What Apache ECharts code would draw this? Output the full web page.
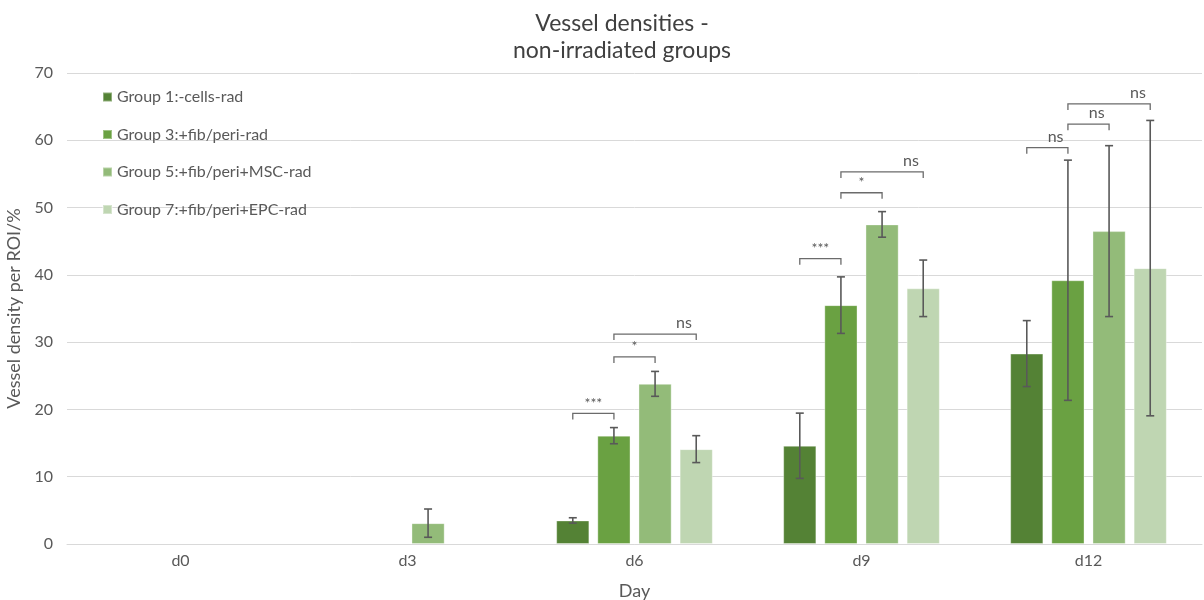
<!DOCTYPE html>
<html>
<head>
<meta charset="utf-8">
<title>Vessel densities</title>
<script src="https://cdn.jsdelivr.net/npm/echarts@6/dist/echarts.min.js"></script>
<style>
  html, body { margin: 0; padding: 0; background: #fff; }
  #chart { width: 1204px; height: 600px; }
</style>
</head>
<body>
<div id="chart"></div>
<script>
// days on the x axis
const days = ['d0', 'd3', 'd6', 'd9', 'd12'];
const groupNames = [
  'Group 1:-cells-rad',
  'Group 3:+fib/peri-rad',
  'Group 5:+fib/peri+MSC-rad',
  'Group 7:+fib/peri+EPC-rad'
];
// mean vessel density per group (null = no bar)
const group1 = [null, null, 3.5, 14.6, 28.3];
const group3 = [null, null, 16.1, 35.5, 39.2];
const group5 = [null, 3.1, 23.8, 47.5, 46.5];
const group7 = [null, null, 14.1, 38.0, 41.0];
// standard deviation for the error bars
const group1Sd = [null, null, 0.4, 4.85, 4.9];
const group3Sd = [null, null, 1.2, 4.2, 17.85];
const group5Sd = [null, 2.1, 1.85, 1.9, 12.7];
const group7Sd = [null, null, 2.0, 4.2, 21.95];
// significance brackets
const bracketDay = [2, 2, 2, 3, 3, 3, 4, 4, 4];
const bracketFrom = [0, 1, 1, 0, 1, 1, 0, 1, 1];
const bracketTo = [1, 2, 3, 1, 2, 3, 1, 2, 3];
const bracketLevel = [19.4, 27.8, 31.2, 42.4, 52.2, 55.3, 58.9, 62.4, 65.4];
const bracketText = ['***', '*', 'ns', '***', '*', 'ns', 'ns', 'ns', 'ns'];
const yTicks = [0, 10, 20, 30, 40, 50, 60, 70];

const colors = ['#548235', '#6aa142', '#93bb79', '#bfd6b2'];
const means = [group1, group3, group5, group7];
const sds = [group1Sd, group3Sd, group5Sd, group7Sd];
const catGap = 0.31;
const barGap = 0.24;
const textColor = '#595959';
const font = 'Lato, "Open Sans", sans-serif';

// x position of a bar centre inside its category
function barX(api, cat, g) {
  const center = api.coord([cat, 0])[0];
  const band = api.size([1, 0])[0];
  const total = band * (1 - catGap);
  const bw = total / (4 + 3 * barGap);
  return center - total / 2 + bw / 2 + g * bw * (1 + barGap);
}

let errData = [];
means.forEach((arr, g) => {
  arr.forEach((v, i) => {
    if (v != null) errData.push([i, g, v - sds[g][i], v + sds[g][i]]);
  });
});
let bracketData = bracketDay.map((d, i) => [d, bracketFrom[i], bracketTo[i], bracketLevel[i]]);

let chart = echarts.init(document.getElementById('chart'));

let series = means.map((arr, g) => ({
  name: groupNames[g],
  type: 'bar',
  data: arr,
  barCategoryGap: (catGap * 100) + '%',
  barGap: (barGap * 100) + '%',
  itemStyle: { color: colors[g], borderColor: 'rgba(255,255,255,0.35)', borderWidth: 1 },
  emphasis: { disabled: true }
}));

series.push({
  type: 'custom',
  name: 'err',
  data: errData,
  z: 5,
  encode: { x: 0, y: [2, 3] },
  renderItem: function (params, api) {
    const x = barX(api, api.value(0), api.value(1));
    const lo = api.coord([api.value(0), api.value(2)])[1];
    const hi = api.coord([api.value(0), api.value(3)])[1];
    const cap = 4;
    const st = { stroke: '#595959', lineWidth: 1.6 };
    return {
      type: 'group',
      children: [
        { type: 'line', shape: { x1: x, y1: lo, x2: x, y2: hi }, style: st },
        { type: 'line', shape: { x1: x - cap, y1: lo, x2: x + cap, y2: lo }, style: st },
        { type: 'line', shape: { x1: x - cap, y1: hi, x2: x + cap, y2: hi }, style: st }
      ]
    };
  }
});

series.push({
  type: 'custom',
  name: 'sig',
  data: bracketData,
  z: 6,
  encode: { x: 0, y: 3 },
  renderItem: function (params, api) {
    const i = params.dataIndex;
    const cat = api.value(0);
    const x1 = barX(api, cat, api.value(1));
    const x2 = barX(api, cat, api.value(2));
    const y = api.coord([cat, api.value(3)])[1];
    const drop = 6;
    const txt = bracketText[i];
    const wide = api.value(2) - api.value(1) > 1;
    const isStar = txt.indexOf('*') >= 0;
    const tx = wide ? x1 + (x2 - x1) * 0.85 : (txt === 'ns' && cat === 4 ? x1 + (x2 - x1) * 0.7 : (x1 + x2) / 2);
    return {
      type: 'group',
      children: [
        {
          type: 'polyline',
          shape: { points: [[x1, y + drop], [x1, y], [x2, y], [x2, y + drop]] },
          style: { stroke: '#6b6b6b', lineWidth: 1.3, fill: null }
        },
        {
          type: 'text',
          x: tx,
          y: y - 3,
          style: {
            text: txt,
            fill: textColor,
            font: (isStar ? '14px ' : '16px ') + font,
            align: 'center',
            verticalAlign: 'bottom'
          }
        }
      ]
    };
  }
});

chart.setOption({
  animation: false,
  color: colors,
  textStyle: { fontFamily: font },
  title: {
    text: 'Vessel densities -\nnon-irradiated groups',
    left: 617,
    textAlign: 'center',
    top: 5,
    textStyle: { fontSize: 23, fontWeight: 'normal', color: '#404040', lineHeight: 27, fontFamily: font }
  },
  legend: {
    data: groupNames,
    orient: 'vertical',
    left: 97,
    top: 84,
    itemWidth: 9,
    itemHeight: 9,
    itemGap: 21.5,
    icon: 'rect',
    textStyle: { fontSize: 16, color: textColor, fontFamily: font }
  },
  grid: { left: 67, right: 2, top: 73, bottom: 56, containLabel: false, outerBoundsMode: 'none' },
  xAxis: {
    type: 'category',
    data: days,
    name: 'Day',
    nameLocation: 'middle',
    nameGap: 38,
    nameTextStyle: { fontSize: 18, color: textColor },
    axisLine: { lineStyle: { color: '#d9d9d9', width: 1 } },
    axisTick: { show: false },
    axisLabel: { fontSize: 16, color: textColor, margin: 9 }
  },
  yAxis: {
    type: 'value',
    min: yTicks[0],
    max: yTicks[yTicks.length - 1],
    interval: 10,
    name: 'Vessel density per ROI/%',
    nameLocation: 'middle',
    nameGap: 41,
    nameTextStyle: { fontSize: 18, color: textColor },
    axisLine: { show: false },
    axisTick: { show: false },
    splitLine: { lineStyle: { color: '#d9d9d9', width: 1 } },
    axisLabel: { fontSize: 16, color: textColor, margin: 14 }
  },
  series: series
});
</script>
</body>
</html>
